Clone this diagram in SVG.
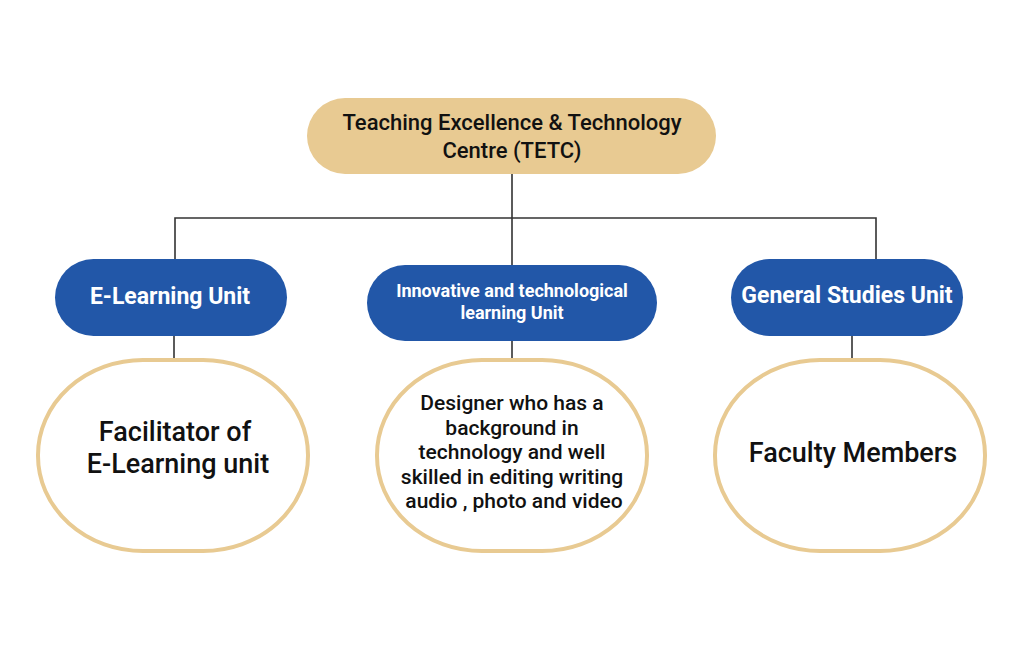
<svg xmlns="http://www.w3.org/2000/svg" width="1024" height="650" viewBox="0 0 1024 650">
<style>
.top{fill:#E8CA92}
.blue{fill:#2257A8}
.leaf{fill:#fff;stroke:#E8CA92;stroke-width:4}
.conn{fill:none;stroke:#333;stroke-width:1.6}
text{font-family:Roboto,"Noto Sans",sans-serif;text-anchor:middle}
.t1{font-size:22px;font-weight:500;fill:#111}
.b1{font-size:23px;font-weight:700;fill:#fff}
.b2{font-size:18px;font-weight:700;fill:#fff}
.l1{font-size:27px;font-weight:500;fill:#111}
.l2{font-size:21px;font-weight:500;fill:#111}
</style>
<rect width="1024" height="650" fill="#fff"/>
<g id="connectors">
<path class="conn" d="M512 174V218M175 260V218H876V260M512 218V265"/>
<path class="conn" d="M174 336V360M512 341V360M852 336V360"/>
</g>
<g id="tetc">
<rect class="top" x="307" y="98" width="409" height="76" rx="38"/>
<text class="t1" x="512" y="130">Teaching Excellence &amp; Technology</text>
<text class="t1" x="512" y="158">Centre (TETC)</text>
</g>
<g id="elearning">
<rect class="blue" x="55" y="259" width="232" height="77" rx="38.5"/>
<text class="b1" x="170" y="304">E-Learning Unit</text>
</g>
<g id="innovative">
<rect class="blue" x="367" y="265" width="290" height="76" rx="38"/>
<text class="b2" x="512" y="297">Innovative and technological</text>
<text class="b2" x="512" y="319">learning Unit</text>
</g>
<g id="general">
<rect class="blue" x="731" y="259" width="232" height="77" rx="38.5"/>
<text class="b1" x="847" y="303">General Studies Unit</text>
</g>
<g id="facilitator">
<rect class="leaf" x="38" y="360" width="270" height="191" rx="105" ry="95"/>
<text class="l1" x="175" y="441">Facilitator of</text>
<text class="l1" x="178" y="473">E-Learning unit</text>
</g>
<g id="designer">
<rect class="leaf" x="377" y="360" width="270" height="191" rx="105" ry="95"/>
<text class="l2" x="512" y="410">Designer who has a</text>
<text class="l2" x="512" y="435">background in</text>
<text class="l2" x="512" y="459">technology and well</text>
<text class="l2" x="512" y="484">skilled in editing writing</text>
<text class="l2" x="514" y="508">audio , photo and video</text>
</g>
<g id="faculty">
<rect class="leaf" x="715" y="360" width="270" height="191" rx="105" ry="95"/>
<text class="l1" x="853" y="462">Faculty Members</text>
</g>
</svg>
